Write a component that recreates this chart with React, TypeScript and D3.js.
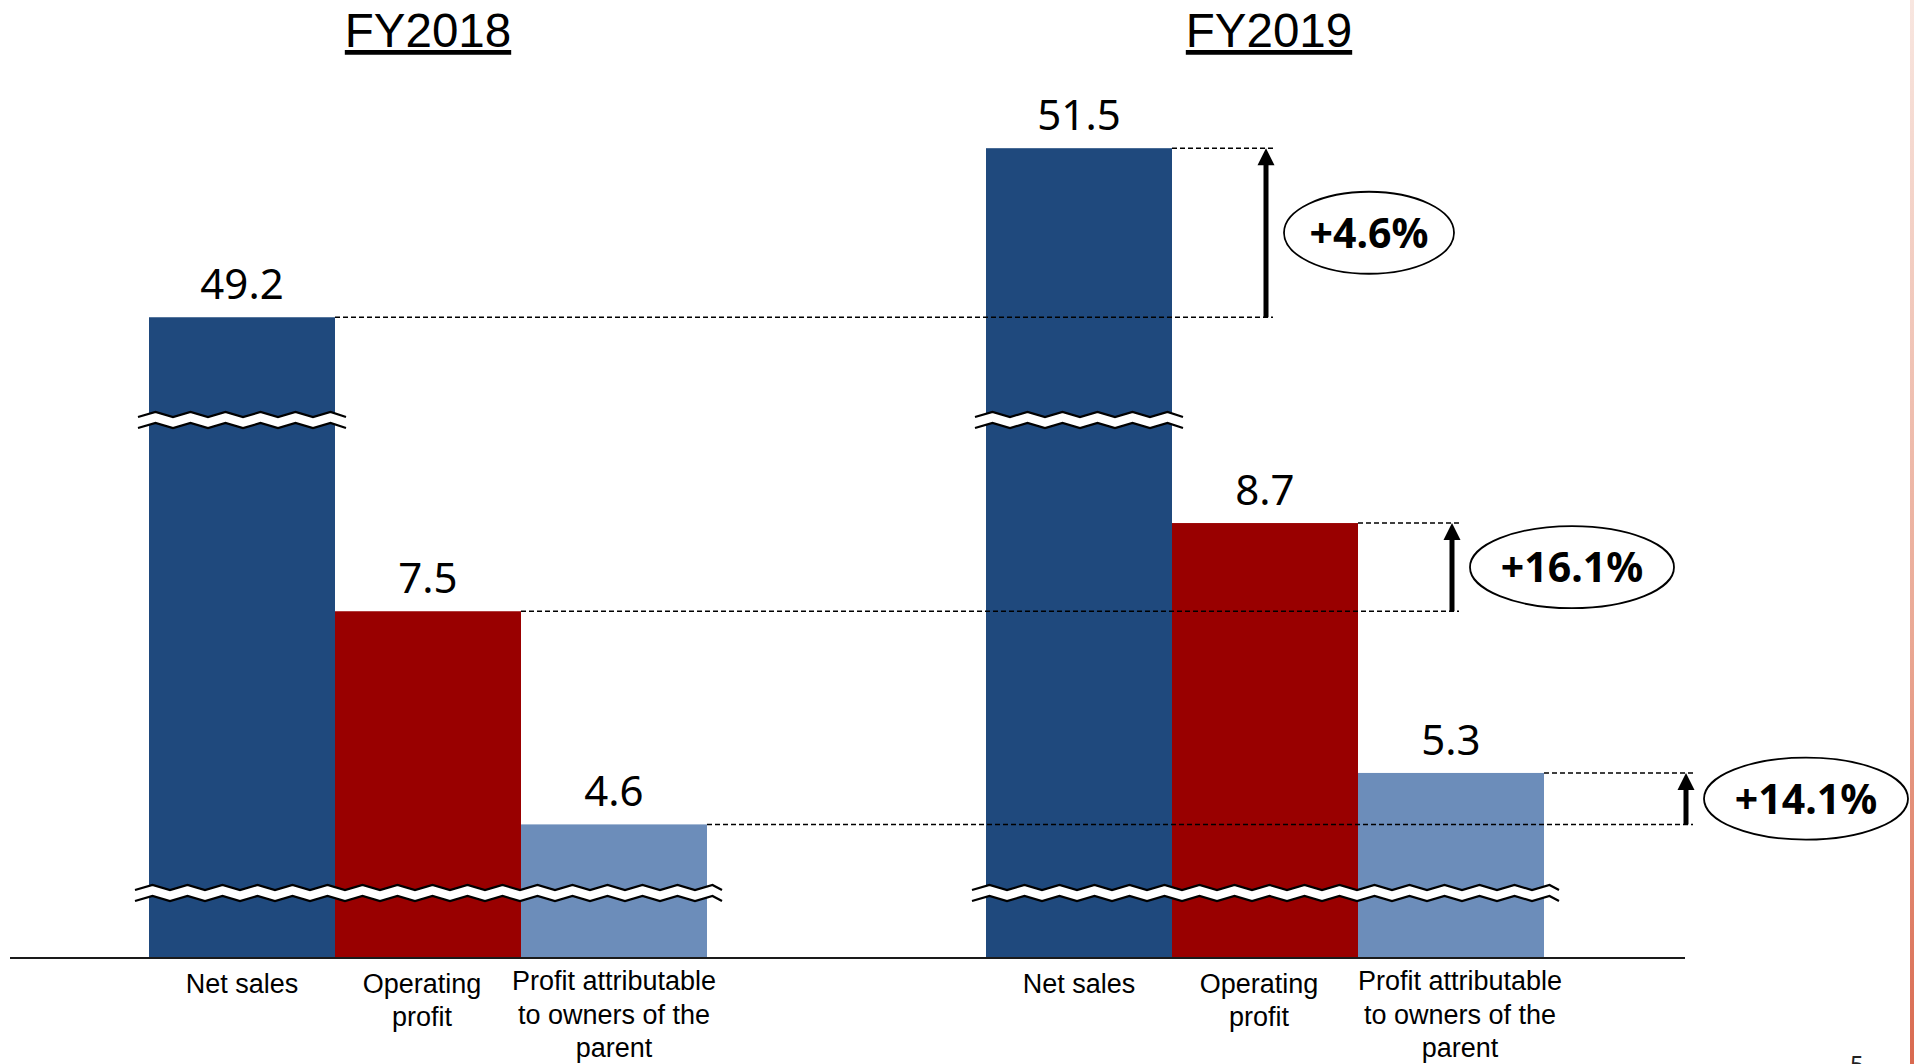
import React from 'react';
import { scaleBand, scaleLinear, line, area } from 'd3';

const years = ['FY2018', 'FY2019'];
const categories = ['Net sales', 'Operating profit', 'Profit attributable to owners of the parent'];
const categoryLines = [['Net sales'], ['Operating', 'profit'], ['Profit attributable', 'to owners of the', 'parent']];
const fy2018 = [49.2, 7.5, 4.6];
const fy2019 = [51.5, 8.7, 5.3];
const growth = ['+4.6%', '+16.1%', '+14.1%'];
const colors = ['#1F497D', '#990000', '#6C8DBA'];

// units hidden by the upper break on the Net sales bars
const NET_CUT = 37.7;

const W = 1914;
const H = 1064;
const axisY = 958;

const xGroup = scaleBand().domain(years).range([149, 1544]).paddingInner(1 / 3).paddingOuter(0);
const xCat = scaleBand().domain(categories).range([0, xGroup.bandwidth()]).padding(0);
const yScale = scaleLinear().domain([0, 10]).range([1162.5, 427.5]);

const yOf = (v: number, i: number) => yScale(i === 0 ? v - NET_CUT : v);

const zig = (x0: number, x1: number, yc: number) => {
  const pts: [number, number][] = [];
  let k = 0;
  for (let x = x0; x < x1; x += 17.5) {
    pts.push([x, yc + (k % 2 === 0 ? 2.5 : -2.5)]);
    k += 1;
  }
  pts.push([x1, yc + (k % 2 === 0 ? 2.5 : -2.5)]);
  return pts;
};

const band = area<[number, number]>().x(d => d[0]).y0(d => d[1] - 5.5).y1(d => d[1] + 5.5);
const upper = line<[number, number]>().x(d => d[0]).y(d => d[1] - 5.5);
const lower = line<[number, number]>().x(d => d[0]).y(d => d[1] + 5.5);

const Break: React.FC<{ x0: number; x1: number; y: number }> = ({ x0, x1, y }) => {
  const pts = zig(x0, x1, y);
  return (
    <g>
      <path d={band(pts) || ''} fill="#fff" />
      <path d={upper(pts) || ''} fill="none" stroke="#000" strokeWidth={2.2} />
      <path d={lower(pts) || ''} fill="none" stroke="#000" strokeWidth={2.2} />
    </g>
  );
};

// small nudges the slide applied to its category text boxes
const labelShift = (gi: number, i: number) => (i === 1 ? -6 : i === 2 && gi === 1 ? 9 : 0);

export default function App() {
  const bw = xCat.bandwidth();
  const g0 = xGroup('FY2018') as number;
  const g1 = xGroup('FY2019') as number;
  const gw = xGroup.bandwidth();
  const series = [fy2018, fy2019];

  return (
    <svg width={W} height={H} style={{ position: 'absolute', left: 0, top: 0, background: '#fff' }}>
      <defs>
        <linearGradient id="edge" x1="0" y1="0" x2="0" y2="1">
          <stop offset="0" stopColor="#f8e6e0" />
          <stop offset="0.6" stopColor="#eaa894" />
          <stop offset="1" stopColor="#d9694f" />
        </linearGradient>
      </defs>

      {/* titles */}
      {years.map((y, gi) => (
        <text key={y} x={(xGroup(y) as number) + gw / 2 + gi * 4} y={47} textAnchor="middle"
          fontFamily="'Liberation Sans', Arial, sans-serif" fontSize={47.5} textDecoration="underline" fill="#000">
          {y}
        </text>
      ))}

      {/* bars */}
      {series.map((vals, gi) => {
        const gx = xGroup(years[gi]) as number;
        return vals.map((v, i) => {
          const x = gx + (xCat(categories[i]) as number);
          const y = yOf(v, i);
          return <rect key={`${gi}-${i}`} x={x} y={y} width={bw} height={axisY - y} fill={colors[i]} />;
        });
      })}

      {/* axis break marks */}
      {[g0, g1].map((gx, gi) => (
        <g key={`brk${gi}`}>
          <Break x0={gx - 11} x1={gx + bw + 11} y={420} />
          <Break x0={gx - 14} x1={gx + gw + 15} y={893} />
        </g>
      ))}

      {/* baseline */}
      <line x1={10} x2={1685} y1={axisY} y2={axisY} stroke="#1a1a1a" strokeWidth={2} />

      {/* comparison guides, arrows and growth bubbles */}
      {categories.map((c, i) => {
        const ax = g1 + (xCat(c) as number) + bw + (i === 2 ? 142 : 94);
        const yA = yOf(fy2018[i], i);
        const yB = yOf(fy2019[i], i);
        const r0 = g0 + (xCat(c) as number) + bw;
        const r1 = g1 + (xCat(c) as number) + bw;
        const cy = (yA + yB) / 2;
        const rx = growth[i].length * 17;
        const cx = ax + 18 + rx;
        return (
          <g key={`cmp${i}`}>
            <line x1={r0} x2={ax + 7} y1={yA} y2={yA} stroke="#000" strokeWidth={1.5} strokeDasharray="5 3" />
            <line x1={r1} x2={ax + 7} y1={yB} y2={yB} stroke="#000" strokeWidth={1.5} strokeDasharray="5 3" />
            <line x1={ax} x2={ax} y1={yA} y2={yB + 15} stroke="#000" strokeWidth={5} />
            <path d={`M${ax},${yB} L${ax - 8.5},${yB + 17} L${ax + 8.5},${yB + 17} Z`} fill="#000" />
            <ellipse cx={cx} cy={cy} rx={rx} ry={41} fill="#fff" stroke="#000" strokeWidth={1.8} />
            <text x={cx} y={cy + 15} textAnchor="middle" fontFamily="'Noto Sans', sans-serif"
              fontWeight={700} fontSize={41} fill="#000">{growth[i]}</text>
          </g>
        );
      })}

      {/* value labels */}
      {series.map((vals, gi) => {
        const gx = xGroup(years[gi]) as number;
        return vals.map((v, i) => (
          <text key={`v${gi}-${i}`} x={gx + (xCat(categories[i]) as number) + bw / 2} y={yOf(v, i) - 18}
            textAnchor="middle" fontFamily="'Noto Sans', sans-serif" fontSize={42} fill="#000">
            {v.toFixed(1)}
          </text>
        ));
      })}

      {/* category labels */}
      {[g0, g1].map((gx, gi) =>
        categoryLines.map((ls, i) => {
          const cx = gx + (xCat(categories[i]) as number) + bw / 2 + labelShift(gi, i);
          return (
            <text key={`c${gi}-${i}`} x={cx} y={ls.length === 3 ? 990 : 992.5} textAnchor="middle"
              fontFamily="'Liberation Sans', Arial, sans-serif" fontSize={27} fill="#000">
              {ls.map((t, k) => (
                <tspan key={k} x={cx} dy={k === 0 ? 0 : 33.5}>{t}</tspan>
              ))}
            </text>
          );
        })
      )}

      {/* slide furniture */}
      <rect x={1910} y={0} width={4} height={H} fill="url(#edge)" />
      <text x={1850} y={1073} fontFamily="'Noto Sans', sans-serif" fontSize={24} fill="#222">5</text>
    </svg>
  );
}
